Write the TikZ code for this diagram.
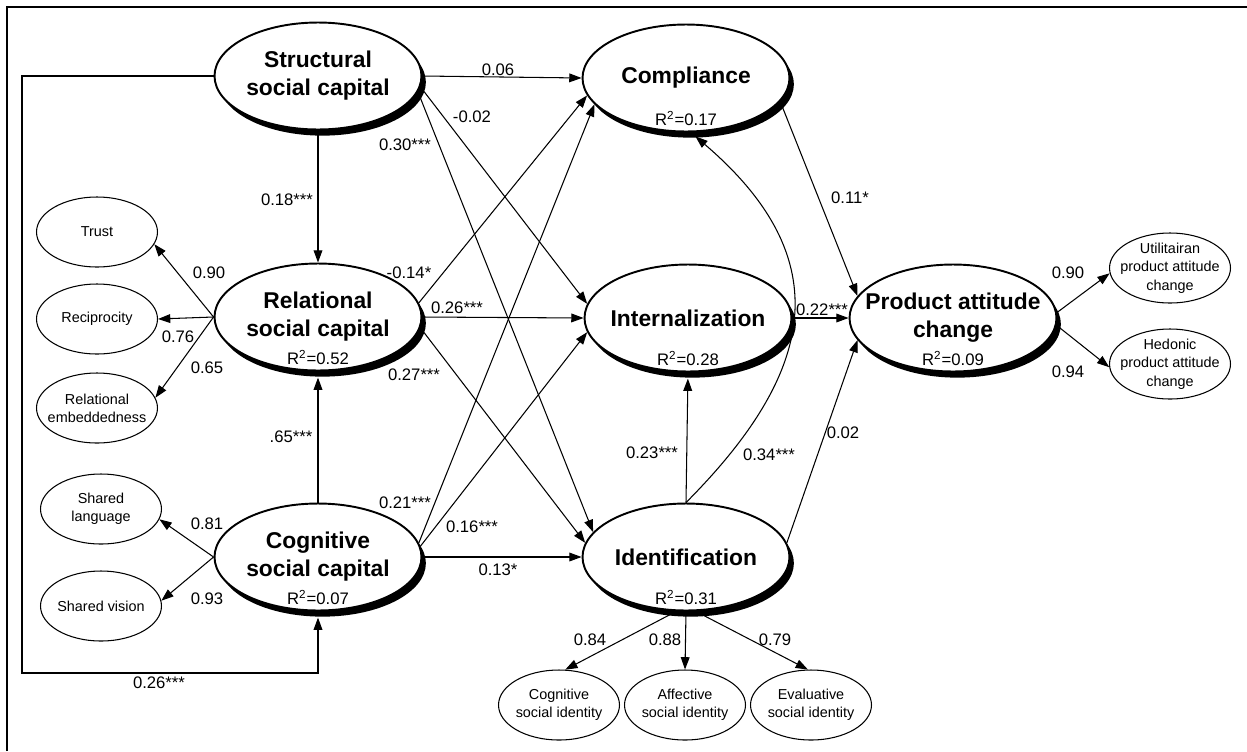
\documentclass[tikz,border=0pt]{standalone}
\usepackage{fontspec}
\setmainfont{Liberation Sans}
\usetikzlibrary{positioning, shapes, shadows, calc, arrows.meta}

\tikzset{
	lv/.style={ellipse, draw, line width=1.1pt, fill=white,
		minimum width=4.14cm, minimum height=2.14cm, inner sep=0pt,
		drop shadow={shadow xshift=2.5pt, shadow yshift=-3.5pt, opacity=1, fill=black},
		label={[lvtext]center:#1}},
	lvtext/.style={font=\fontsize{13}{16}\selectfont\bfseries, align=center, inner sep=0pt},
	r2/.style={label={[r2text]center:R\textsuperscript{2}=#1}},
	r2text/.style={font=\fontsize{9.5}{11}\selectfont, inner sep=0pt, yshift=-23pt},
	ind/.style={ellipse, draw, line width=0.6pt, fill=white,
		minimum width=2.42cm, minimum height=1.4cm, inner sep=0pt,
		label={[indtext]center:#1}},
	indtext/.style={font=\fontsize{8.2}{10.4}\selectfont, align=center, inner sep=0pt}
}

\begin{document}
\begin{tikzpicture}[x=0.02cm, y=-0.02cm,
					link/.style={-{Triangle[length=7pt,width=5pt]}, line width=0.6pt},
					lbl/.style={font=\fontsize{9.5}{11}\selectfont, inner sep=0pt}]

\useasboundingbox (0,0) rectangle (1247,751);
\draw[line width=1.2pt] (7,751) -- (7,7) -- (1247,7);

\node[lv={Structural\\social capital}] (str) at (318,76) {};
\node[lv={Compliance}, r2=0.17] (comp) at (686,78) {};
\node[lv={Relational\\social capital}, r2=0.52] (rel) at (318,317) {};
\node[lv={Internalization}, r2=0.28] (inter) at (688,318) {};
\node[lv={Cognitive\\social capital}, r2=0.07] (cog) at (318,557) {};
\node[lv={Identification}, r2=0.31] (iden) at (686,557) {};
\node[lv={Product attitude\\change}, r2=0.09] (prod) at (953,318) {};

\node[ind={Trust}] (trust) at (97,232) {};
\node[ind={Reciprocity}] (recip) at (97,319) {};
\node[ind={Relational\\embeddedness}] (embed) at (97,408) {};
\node[ind={Shared\\language}] (lang) at (101,509) {};
\node[ind={Shared vision}] (vision) at (101,606) {};
\node[ind={Utilitairan\\product attitude\\change}] (util) at (1170,268) {};
\node[ind={Hedonic\\product attitude\\change}] (hed) at (1170,364) {};
\node[ind={Cognitive\\social identity}] (csi) at (559,705) {};
\node[ind={Affective\\social identity}] (asi) at (685,705) {};
\node[ind={Evaluative\\social identity}] (esi) at (811,705) {};

\coordinate (loopa) at (22,76);
\coordinate (loopb) at (22,673);

\draw[link] (str.east) -- (comp.west);
\draw[link] (str.-6) -- (inter.172);
\draw[link] (str.-9) -- (iden.165);
\draw[link] (str.south) -- (rel.north);
\draw[link, shorten >=3.5pt] (str.west) -- (loopa) -- (loopb) -| (cog.south);

\draw[link] (rel.west) -- (trust.-12);
\draw[link] (rel.west) -- (recip.east);
\draw[link] (rel.west) -- (embed.10);
\draw[link] (rel.8) -- (comp.190);
\draw[link] (rel.east) -- (inter.west);
\draw[link] (rel.-6) -- (iden.172);

\draw[link, shorten >=3.5pt] (cog.north) -- (rel.south);
\draw[link] (cog.west) -- (lang.-10);
\draw[link] (cog.west) -- (vision.5);
\draw[link] (cog.8) -- (comp.196);
\draw[link] (cog.6) -- (inter.188);
\draw[link] (cog.east) -- (iden.west);

\draw[link] (comp.-14) -- (prod.167);
\draw[link] (inter.east) -- (prod.west);
\draw[link] (iden.8) -- (prod.193);
\draw[link, shorten >=3.5pt] (iden.north) -- (inter.south);
\draw[link, shorten >=3.5pt] (iden.north) .. controls (815,373) and (840,260) .. (comp.-85);

\draw[link] (prod.3) -- (util.185);
\draw[link] (prod.-4) -- (hed.183);
\draw[link] (iden.-100) -- (csi.80);
\draw[link] (iden.-90) -- (asi.north);
\draw[link] (iden.-80) -- (esi.95);

\node[lbl] (l-str-comp) at (498,70) {0.06};
\node[lbl] (l-str-inter) at (472,117) {-0.02};
\node[lbl] (l-str-iden) at (405,145) {0.30***};
\node[lbl] (l-str-rel) at (287,200) {0.18***};
\node[lbl] (l-str-cog) at (159,683) {0.26***};
\node[lbl] (l-trust) at (209,273) {0.90};
\node[lbl] (l-recip) at (178,337) {0.76};
\node[lbl] (l-embed) at (207,368) {0.65};
\node[lbl] (l-rel-comp) at (409,273) {-0.14*};
\node[lbl] (l-rel-inter) at (457,308) {0.26***};
\node[lbl] (l-rel-iden) at (414,375) {0.27***};
\node[lbl] (l-cog-rel) at (291,437) {.65***};
\node[lbl] (l-lang) at (207,524) {0.81};
\node[lbl] (l-vision) at (207,599) {0.93};
\node[lbl] (l-cog-comp) at (405,503) {0.21***};
\node[lbl] (l-cog-inter) at (472,527) {0.16***};
\node[lbl] (l-cog-iden) at (498,570) {0.13*};
\node[lbl] (l-comp-prod) at (850,198) {0.11*};
\node[lbl] (l-inter-prod) at (822,310) {0.22***};
\node[lbl] (l-iden-prod) at (843,433) {0.02};
\node[lbl] (l-iden-inter) at (652,453) {0.23***};
\node[lbl] (l-iden-comp) at (769,455) {0.34***};
\node[lbl] (l-util) at (1068,273) {0.90};
\node[lbl] (l-hed) at (1068,372) {0.94};
\node[lbl] (l-csi) at (590,640) {0.84};
\node[lbl] (l-asi) at (665,640) {0.88};
\node[lbl] (l-esi) at (775,640) {0.79};
\end{tikzpicture}
\end{document}
